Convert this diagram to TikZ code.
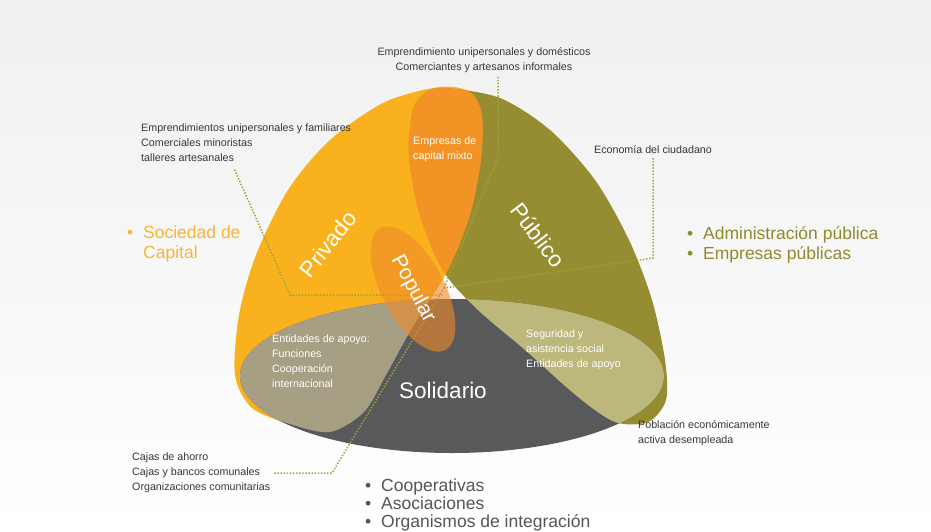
\documentclass[tikz,border=0pt]{standalone}
\usepackage{fontspec}
\setmainfont{Liberation Sans}
\usetikzlibrary{shapes.geometric}
\definecolor{privcol}{RGB}{249,178,30}
\definecolor{mixcol}{RGB}{243,147,37}
\definecolor{pubcol}{RGB}{150,141,51}
\definecolor{solcol}{RGB}{88,89,91}
\definecolor{privsol}{RGB}{166,159,131}
\definecolor{pubsol}{RGB}{188,183,122}
\definecolor{popcol}{RGB}{240,138,40}
\definecolor{leadcol}{RGB}{152,166,52}
\definecolor{notecol}{RGB}{55,55,55}
\definecolor{privtxt}{RGB}{250,180,50}
\definecolor{pubtxt}{RGB}{143,138,50}
\definecolor{soltxt}{RGB}{85,85,85}
\newcommand{\privadopath}{plot[smooth cycle] coordinates {(440,87) (470,92) (482,115) (481,160) (470,215) (448,270) (412,328) (386,375) (364,412) (330,432) (290,424) (252,408) (235,375) (239,315) (256,255) (288,190) (330,140) (385,102)}}
\newcommand{\publicopath}{plot[smooth cycle] coordinates {(445,88) (500,98) (550,130) (595,180) (629,240) (652,300) (665,360) (666,400) (648,422) (615,422) (578,397) (525,350) (478,310) (444,272) (420,215) (409,155) (413,110) (425,93)}}
\newcommand{\solidariopath}{(452,376) ellipse (212 and 77)}
\newcommand{\bul}{\makebox[16pt][l]{\textbullet}}

\begin{document}
\begin{tikzpicture}[x=1pt,y=-1pt,
  note/.style={font=\fontsize{10.7}{15}\selectfont,text=notecol,align=left,inner sep=0pt},
  inner/.style={note,text=white},
  sector/.style={font=\fontsize{22.5}{26}\selectfont,text=white,inner sep=0pt},
  bigl/.style={font=\fontsize{17.5}{19.5}\selectfont,align=left,inner sep=0pt},
  leader/.style={draw=leadcol,line width=1.5pt,dash pattern=on 1.4pt off 1.7pt,shorten <=4pt},
  popular/.style={ellipse,fill=popcol,fill opacity=0.6,text opacity=1,minimum width=138pt,
    minimum height=62pt,inner sep=0pt,rotate=-62,sector,font=\fontsize{21}{24}\selectfont}]
  \useasboundingbox (0,0) rectangle (931,531);
  \shade[top color=black!6,bottom color=white] (0,0) rectangle (931,531);
  % petals and overlaps
  \fill[privcol] \privadopath;
  \fill[pubcol] \publicopath;
  \begin{scope}\clip \privadopath; \fill[mixcol] \publicopath; \end{scope}
  \fill[solcol] \solidariopath;
  \begin{scope}\clip \solidariopath; \fill[privsol] \privadopath; \fill[pubsol] \publicopath; \end{scope}
  % notes
  \node[note,align=center] (emptop) at (484,60) {Emprendimiento unipersonales y domésticos\\Comerciantes y artesanos informales};
  \node[note,anchor=west] (empfam) at (141,143) {Emprendimientos unipersonales y familiares\\Comerciales minoristas\\talleres artesanales};
  \node[note] (econ) at (653,150) {Economía del ciudadano};
  \node[note,anchor=west] (pobla) at (638,433) {Población económicamente\\activa desempleada};
  \node[note,anchor=west] (cajas) at (132,473) {Cajas de ahorro\\Cajas y bancos comunales\\Organizaciones comunitarias};
  % leaders
  \coordinate (hub) at (444,288);
  \coordinate (k1) at (498,157);
  \coordinate (k2a) at (233,166);
  \coordinate (k2) at (290,295);
  \coordinate (k3) at (652,258);
  \coordinate (k4) at (332,473);
  \draw[leader] (emptop.south -| k1) -- (k1) -- (hub);
  \draw[leader] (k2a) -- (k2) -- (k2 -| hub);
  \draw[leader] (econ.south) -- (econ.south |- k3) -- (hub);
  \draw[leader] (cajas.east) -- (cajas.east -| k4) -- (hub);
  % sector names
  \foreach \n/\x/\y/\r/\t in {privado/328/244/52/Privado,publico/538/235/-53/Público}
    \node[sector,rotate=\r] (\n) at (\x,\y) {\t};
  \node[sector] (solidario) at (443,390) {Solidario};
  \node[popular] (popular) at (413,289) {Popular};
  \node[inner,anchor=west] (mixto) at (413,149) {Empresas de\\capital mixto};
  \node[inner,anchor=west] (apoyo) at (272,361) {Entidades de apoyo:\\Funciones\\Cooperación\\internacional};
  \node[inner,anchor=west] (segur) at (526,350) {Seguridad y\\asistencia social\\Entidades de apoyo};
  % bullet lists
  \node[bigl,text=privtxt,anchor=west,font=\fontsize{17.5}{20}\selectfont] (socied) at (127,244) {\bul Sociedad de\\\hspace*{16pt}Capital};
  \node[bigl,text=pubtxt,anchor=west] (admin) at (687,245) {\bul Administración pública\\\bul Empresas públicas};
  \node[bigl,text=soltxt,anchor=west,font=\fontsize{17.5}{18}\selectfont] (coop) at (365,505) {\bul Cooperativas\\\bul Asociaciones\\\bul Organismos de integración};
\end{tikzpicture}
\end{document}
